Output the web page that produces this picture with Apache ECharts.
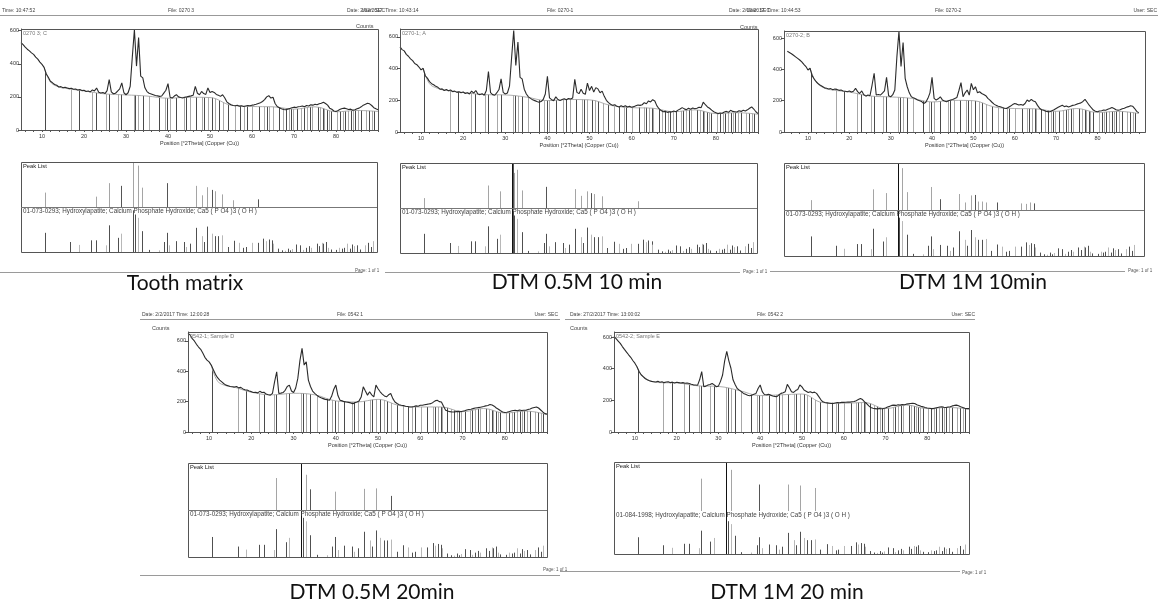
<!DOCTYPE html>
<html>
<head>
<meta charset="utf-8">
<script src="https://cdn.jsdelivr.net/npm/echarts@6/dist/echarts.min.js"></script>
<style>
  html, body { margin: 0; padding: 0; background: #fff; }
  #chart { width: 1158px; height: 601px; }
</style>
</head>
<body>
<div id="chart"></div>
<script>
// ---- data (read off the scanned XRD printouts) ----
// scan positions, °2Theta
const twoTheta = [
  5, 5.5, 6, 6.5, 7, 7.5, 8, 8.5, 9, 9.5,
  10, 10.5, 11, 11.5, 12, 12.5, 13, 13.5, 14, 14.5,
  15, 15.5, 16, 16.5, 17, 17.5, 18, 18.5, 19, 19.5,
  20, 20.5, 21, 21.5, 22, 22.5, 23, 23.5, 24, 24.5,
  25, 25.5, 26, 26.5, 27, 27.5, 28, 28.5, 29, 29.5,
  30, 30.5, 31, 31.5, 32, 32.5, 33, 33.5, 34, 34.5,
  35, 35.5, 36, 36.5, 37, 37.5, 38, 38.5, 39, 39.5,
  40, 40.5, 41, 41.5, 42, 42.5, 43, 43.5, 44, 44.5,
  45, 45.5, 46, 46.5, 47, 47.5, 48, 48.5, 49, 49.5,
  50, 50.5, 51, 51.5, 52, 52.5, 53, 53.5, 54, 54.5,
  55, 55.5, 56, 56.5, 57, 57.5, 58, 58.5, 59, 59.5,
  60, 60.5, 61, 61.5, 62, 62.5, 63, 63.5, 64, 64.5,
  65, 65.5, 66, 66.5, 67, 67.5, 68, 68.5, 69, 69.5,
  70, 70.5, 71, 71.5, 72, 72.5, 73, 73.5, 74, 74.5,
  75, 75.5, 76, 76.5, 77, 77.5, 78, 78.5, 79, 79.5,
  80, 80.5, 81, 81.5, 82, 82.5, 83, 83.5, 84, 84.5,
  85, 85.5, 86, 86.5, 87, 87.5, 88, 88.5, 89, 89.5,
  90
];

// counts, sample 0270 3; C (tooth matrix)
const countsC = [
  528, 515, 500, 488, 478, 466, 457, 440, 428, 410,
  396, 378, 340, 318, 294, 285, 275, 270, 260, 262,
  255, 258, 254, 250, 252, 246, 248, 242, 244, 238,
  240, 233, 236, 230, 242, 236, 254, 228, 223, 226,
  220, 238, 305, 230, 219, 222, 235, 248, 284, 225,
  213, 225, 264, 440, 605, 386, 558, 325, 315, 255,
  232, 222, 218, 213, 208, 206, 203, 205, 223, 240,
  280, 198, 193, 205, 213, 200, 196, 193, 198, 200,
  203, 206, 210, 264, 222, 213, 233, 220, 215, 254,
  226, 233, 227, 215, 210, 203, 213, 195, 170, 160,
  152, 148, 146, 150, 144, 146, 142, 145, 148, 146,
  150, 152, 155, 160, 165, 172, 183, 200, 207, 193,
  198, 160, 142, 135, 128, 124, 122, 126, 130, 134,
  138, 136, 140, 142, 145, 140, 148, 145, 152, 150,
  155, 152, 158, 162, 168, 160, 150, 132, 125, 115,
  112, 118, 125, 130, 132, 128, 124, 126, 120, 122,
  128, 132, 140, 150, 155, 162, 158, 148, 135, 128,
  122
];
// counts, sample 0270-1; A
const countsA = [
  537, 520, 512, 490, 478, 462, 450, 432, 425, 410,
  392, 402, 355, 340, 318, 305, 298, 288, 282, 270,
  272, 262, 268, 260, 265, 255, 258, 250, 254, 248,
  252, 243, 248, 240, 258, 245, 262, 240, 236, 242,
  232, 262, 382, 248, 236, 232, 248, 268, 335, 250,
  240, 246, 290, 470, 640, 420, 568, 345, 335, 270,
  240, 222, 212, 203, 198, 192, 188, 192, 205, 240,
  352, 215, 204, 198, 222, 205, 198, 205, 210, 204,
  212, 208, 215, 333, 250, 242, 270, 245, 238, 309,
  262, 288, 252, 280, 272, 248, 258, 225, 200, 185,
  175, 168, 172, 162, 158, 165, 160, 166, 158, 162,
  156, 160, 165, 170, 168, 172, 185, 178, 196, 190,
  204, 196, 165, 147, 135, 128, 130, 124, 128, 126,
  132, 128, 138, 145, 154, 146, 141, 150, 144, 152,
  147, 150, 156, 154, 188, 172, 158, 150, 138, 128,
  122, 116, 120, 118, 126, 130, 124, 137, 130, 128,
  126, 134, 130, 137, 132, 140, 150, 158, 145, 128,
  116
];
// counts, sample 0270-2; B
const countsB = [
  515, 508, 500, 490, 480, 470, 460, 448, 432, 418,
  396, 407, 360, 338, 321, 308, 298, 290, 282, 279,
  275, 277, 270, 274, 272, 266, 268, 262, 260, 257,
  262, 255, 260, 279, 258, 246, 262, 238, 229, 236,
  232, 300, 375, 236, 240, 236, 248, 262, 349, 232,
  225, 238, 268, 480, 643, 418, 572, 343, 289, 250,
  225, 218, 212, 204, 200, 194, 182, 190, 215, 250,
  349, 215, 204, 212, 225, 205, 198, 193, 200, 204,
  208, 214, 220, 265, 315, 225, 250, 268, 236, 311,
  270, 289, 250, 257, 246, 240, 232, 215, 204, 190,
  178, 170, 165, 161, 156, 152, 150, 158, 166, 175,
  182, 178, 172, 176, 171, 182, 204, 195, 208, 198,
  193, 170, 152, 142, 139, 132, 130, 129, 136, 142,
  150, 158, 165, 171, 162, 166, 160, 165, 170, 172,
  178, 182, 186, 195, 208, 190, 171, 155, 140, 132,
  129, 134, 136, 140, 139, 145, 150, 156, 150, 142,
  139, 142, 148, 152, 158, 162, 168, 165, 150, 132,
  122
];
// counts, sample 0542-1
const countsD = [
  650, 640, 615, 600, 578, 560, 545, 520, 492, 474,
  462, 441, 410, 380, 358, 342, 330, 318, 309, 305,
  300, 298, 296, 300, 291, 294, 284, 278, 276, 270,
  266, 260, 262, 258, 268, 260, 262, 250, 246, 243,
  255, 330, 397, 254, 256, 260, 275, 300, 309, 270,
  260, 290, 353, 470, 551, 441, 463, 342, 300, 270,
  255, 243, 232, 225, 220, 215, 212, 209, 235, 280,
  309, 240, 209, 205, 200, 198, 195, 192, 187, 192,
  198, 205, 230, 298, 270, 243, 265, 245, 232, 309,
  285, 265, 250, 238, 232, 245, 254, 220, 198, 188,
  180, 176, 174, 170, 168, 165, 165, 168, 172, 170,
  176, 176, 180, 182, 185, 187, 195, 205, 209, 200,
  198, 170, 143, 138, 134, 132, 132, 134, 136, 134,
  137, 140, 145, 148, 150, 154, 158, 160, 162, 165,
  168, 172, 175, 181, 178, 170, 158, 150, 140, 132,
  128, 130, 134, 138, 142, 143, 140, 145, 142, 143,
  143, 148, 152, 158, 162, 165, 158, 145, 132, 121,
  118
];
// counts, sample 0542-2
const countsE = [
  604, 590, 575, 560, 540, 522, 505, 488, 472, 452,
  435, 412, 382, 362, 350, 338, 330, 324, 320, 318,
  316, 320, 314, 318, 312, 316, 318, 312, 315, 310,
  314, 312, 310, 312, 308, 310, 307, 302, 298, 297,
  295, 330, 382, 286, 290, 297, 300, 307, 298, 286,
  290, 320, 360, 450, 509, 450, 403, 330, 300, 275,
  265, 255, 244, 238, 232, 229, 232, 238, 244, 275,
  297, 255, 237, 235, 238, 233, 228, 225, 223, 235,
  244, 248, 255, 301, 280, 255, 250, 262, 268, 297,
  285, 265, 258, 250, 255, 248, 252, 244, 225, 205,
  191, 186, 184, 182, 180, 180, 183, 186, 185, 187,
  187, 188, 190, 189, 191, 193, 198, 205, 212, 205,
  190, 180, 165, 155, 150, 148, 146, 148, 147, 148,
  152, 158, 162, 168, 170, 168, 172, 170, 174, 172,
  176, 178, 180, 182, 180, 172, 168, 162, 159, 155,
  152, 150, 148, 148, 152, 155, 158, 159, 156, 155,
  158, 160, 165, 168, 170, 166, 160, 155, 150, 148,
  148
];

// fitted background
const bgTheta = [10.5, 12, 14, 16, 20, 25, 30, 35, 40, 45, 50, 55, 60, 65, 70, 75, 80, 85, 90];
const bgC = [378, 290, 260, 250, 236, 218, 212, 205, 192, 198, 196, 150, 142, 140, 126, 140, 110, 118, 112];
const bgA = [402, 305, 275, 262, 250, 236, 234, 220, 198, 205, 203, 168, 154, 150, 128, 140, 116, 122, 112];
const bgB = [407, 318, 280, 268, 255, 230, 224, 215, 192, 202, 200, 160, 150, 148, 132, 150, 125, 132, 118];
const bgD = [441, 335, 305, 295, 262, 245, 255, 245, 205, 198, 215, 175, 165, 165, 134, 155, 125, 138, 115];
const bgE = [412, 345, 320, 312, 310, 292, 288, 262, 230, 235, 240, 186, 182, 186, 148, 170, 148, 155, 145];

// reference pattern (hydroxylapatite card), position and relative intensity
const refTheta = [
  10.8, 16.8, 18.8, 21.8, 22.9, 25.3, 25.9, 28.1, 28.9, 31.8,
  32.2, 32.9, 34.0, 35.5, 37.9, 39.2, 39.8, 40.4, 42.0, 43.8,
  44.4, 45.3, 46.7, 48.1, 48.6, 49.5, 50.5, 51.3, 52.1, 53.1,
  54.4, 55.9, 57.1, 58.1, 58.7, 60.1, 61.7, 62.9, 63.5, 64.1,
  64.9, 65.1, 66.4, 67.3, 68.0, 68.7, 69.2, 69.7, 70.6, 71.7,
  72.3, 73.0, 73.7, 74.2, 75.6, 76.2, 76.9, 77.2, 77.9, 78.3,
  78.9, 80.3, 81.0, 81.6, 82.1, 82.8, 83.5, 84.0, 84.5, 85.2,
  86.0, 87.1, 87.8, 88.5, 89.0
];
const refInt = [
  46, 24, 17, 28, 28, 16, 64, 34, 44, 100,
  90, 82, 50, 5, 4, 24, 46, 16, 26, 24,
  12, 20, 58, 38, 24, 61, 44, 38, 38, 40,
  12, 27, 22, 10, 12, 22, 22, 32, 26, 30,
  28, 20, 8, 4, 3, 8, 4, 7, 18, 16,
  5, 10, 14, 10, 20, 14, 22, 20, 24, 10,
  6, 5, 10, 8, 10, 20, 8, 18, 14, 16,
  6, 16, 22, 12, 26
];

// peak lists found in each scan
const peakThetaC = [10.8, 22.9, 25.9, 28.9, 31.8, 32.9, 34.0, 39.8, 46.7, 48.1, 49.5, 50.5, 51.3, 53.1, 55.5, 61.6];
const peakIntC = [32, 23, 53, 47, 100, 92, 43, 53, 47, 26, 44, 38, 35, 28, 15, 17];
const peakThetaA = [10.8, 25.9, 28.9, 31.8, 32.2, 32.9, 34.0, 39.8, 46.7, 48.1, 49.5, 50.5, 51.3, 53.1, 61.6];
const peakIntA = [22, 50, 37, 100, 78, 85, 39, 47, 42, 27, 37, 33, 31, 26, 15];
const peakThetaB = [10.8, 25.9, 28.9, 31.8, 32.9, 34.0, 39.8, 42.0, 46.7, 48.1, 49.5, 50.5, 51.3, 52.1, 53.1, 55.9, 61.6, 62.9, 63.9, 64.9];
const peakIntB = [21, 44, 36, 100, 89, 38, 49, 23, 34, 16, 31, 32, 18, 18, 16, 16, 14, 13, 16, 14];
const peakThetaD = [25.9, 31.8, 32.9, 34.0, 39.8, 46.7, 49.5, 53.1];
const peakIntD = [68, 100, 75, 44, 39, 45, 46, 30];
const peakThetaE = [25.9, 31.8, 32.9, 39.8, 46.7, 49.5, 53.1];
const peakIntE = [66, 100, 84, 54, 54, 52, 47];

const cursorTheta = 31.75;
const xTickLabels = [10, 20, 30, 40, 50, 60, 70, 80];
const xTickMarks = [6, 8, 10, 12, 14, 16, 18, 20, 22, 24, 26, 28, 30, 32, 34, 36, 38, 40, 42, 44, 46, 48,
  50, 52, 54, 56, 58, 60, 62, 64, 66, 68, 70, 72, 74, 76, 78, 80, 82, 84, 86, 88, 90];
const yTickLabels = [0, 200, 400, 600];

// ---- layout ----
const SMALL = '"Liberation Sans", Arial, sans-serif';
const cardHA = '01-073-0293; Hydroxylapatite; Calcium Phosphate Hydroxide; Ca5 ( P O4 )3 ( O H )';
const cardHA2 = '01-084-1998; Hydroxylapatite; Calcium Phosphate Hydroxide; Ca5 ( P O4 )3 ( O H )';

const panels = [
  { counts: countsC, bg: bgC, pT: peakThetaC, pI: peakIntC, card: cardHA, sample: '0270 3; C',
    xMin: 5, xMax: 90, yMax: 610, plot: [21, 29, 378, 130], box: [21, 162, 377, 252], div: 207, refMax: 108, cursor: false },
  { counts: countsA, bg: bgA, pT: peakThetaA, pI: peakIntA, card: cardHA, sample: '0270-1; A',
    xMin: 5, xMax: 90, yMax: 650, plot: [400, 29, 758, 132], box: [400, 163, 757, 253], div: 208, refMax: 108, cursor: true },
  { counts: countsB, bg: bgB, pT: peakThetaB, pI: peakIntB, card: cardHA, sample: '0270-2; B',
    xMin: 4.2, xMax: 91.5, yMax: 645, plot: [784, 31, 1145, 132], box: [784, 163, 1144, 256], div: 210, refMax: 108, cursor: true },
  { counts: countsD, bg: bgD, pT: peakThetaD, pI: peakIntD, card: cardHA, sample: '0542-1; Sample D',
    xMin: 5, xMax: 90, yMax: 659, plot: [188, 332, 547, 432], box: [188, 463, 547, 557], div: 510, refMax: 108, cursor: true },
  { counts: countsE, bg: bgE, pT: peakThetaE, pI: peakIntE, card: cardHA2, sample: '0542-2; Sample E',
    xMin: 5, xMax: 90, yMax: 632, plot: [614, 332, 969, 432], box: [614, 462, 969, 554], div: 511, refMax: 118, cursor: true, noDivider: true }
];

const headers = [
  ['Time: 10:47:52', 2, 11, 'left'], ['File: 0270 3', 168, 11, 'left'], ['User: SEC', 385, 11, 'right'],
  ['Date: 2/02/2017  Time: 10:43:14', 347, 11, 'left'], ['File: 0270-1', 547, 11, 'left'], ['User: SEC', 770, 11, 'right'],
  ['Date: 2/02/2017  Time: 10:44:53', 729, 11, 'left'], ['File: 0270-2', 935, 11, 'left'], ['User: SEC', 1157, 11, 'right'],
  ['Date: 2/2/2017 Time: 12:00:28', 142, 315, 'left'], ['File: 0542 1', 337, 315, 'left'], ['User: SEC', 558, 315, 'right'],
  ['Date: 27/2/2017 Time: 13:00:02', 570, 315, 'left'], ['File: 0542 2', 757, 315, 'left'], ['User: SEC', 975, 315, 'right']
];
const headerLines = [[0, 15, 385], [347, 15, 770], [729, 15, 1158], [140, 319, 560], [565, 319, 975]];
const countsLabels = [[356, 26], [740, 27], [152, 328], [570, 328]];
const pageLines = [[0, 272, 362], [385, 272, 740], [770, 271, 1125], [140, 575, 560], [560, 571, 960]];
const pageLabels = [[355, 271], [743, 272], [1128, 271], [543, 570], [962, 573]];
const captions = [
  ['Tooth matrix', 185, 283], ['DTM 0.5M 10 min', 577, 282], ['DTM 1M 10min', 973, 282],
  ['DTM 0.5M 20min', 372, 592], ['DTM 1M 20 min', 787, 592]
];

function zip(xs, ys) { return xs.map((x, i) => [x, ys[i]]); }

function sticks(gi, xs, hs, colorOf, z) {
  return {
    type: 'custom', xAxisIndex: gi, yAxisIndex: gi, silent: true, clip: true, z: z,
    data: xs.map((x, i) => [x, hs[i], i]),
    renderItem: function (params, api) {
      const a = api.coord([api.value(0), 0]);
      const b = api.coord([api.value(0), api.value(1)]);
      const x = Math.round(a[0]) + 0.5;
      return {
        type: 'line',
        shape: { x1: x, y1: a[1], x2: x, y2: b[1] },
        style: { stroke: colorOf(api.value(2)), lineWidth: 1 }
      };
    }
  };
}

const grid = [], xAxis = [], yAxis = [], series = [], graphic = [];

function txt(s, x, y, size, opts) {
  opts = opts || {};
  graphic.push({
    type: 'text', x: x, y: y, z: 200, silent: true,
    style: {
      text: s, fill: opts.color || '#333', align: opts.align || 'left',
      verticalAlign: opts.va || 'middle',
      font: (opts.weight || 'normal') + ' ' + size + 'px ' + (opts.family || SMALL)
    }
  });
}
function hline(x1, y, x2, color, w) {
  graphic.push({ type: 'line', z: 150, silent: true, shape: { x1: x1, y1: y + 0.5, x2: x2, y2: y + 0.5 },
    style: { stroke: color, lineWidth: w || 1 } });
}
function box(l, t, r, b, color) {
  graphic.push({ type: 'rect', z: 150, silent: true,
    shape: { x: l + 0.5, y: t + 0.5, width: r - l, height: b - t },
    style: { fill: 'transparent', stroke: color, lineWidth: 1 } });
}

panels.forEach(function (p, k) {
  const gPlot = 3 * k, gUp = 3 * k + 1, gLow = 3 * k + 2;
  const [pl, pt, pr, pb] = p.plot;
  const [bl, bt, br, bb] = p.box;

  grid.push({ left: pl, top: pt, width: pr - pl, height: pb - pt, show: false, containLabel: false, outerBoundsMode: 'none' });
  grid.push({ left: bl, top: bt, width: br - bl, height: p.div - bt, show: false, containLabel: false, outerBoundsMode: 'none' });
  grid.push({ left: bl, top: p.div, width: br - bl, height: bb - p.div, show: false, containLabel: false, outerBoundsMode: 'none' });

  xAxis.push({
    gridIndex: gPlot, type: 'value', min: p.xMin, max: p.xMax,
    name: 'Position [°2Theta] (Copper (Cu))', nameLocation: 'middle', nameGap: 10,
    nameTextStyle: { fontSize: 5.5, color: '#333', fontFamily: SMALL },
    axisLine: { show: true, onZero: false, lineStyle: { color: '#444', width: 1 } },
    axisTick: { show: true, length: 2, customValues: xTickMarks, lineStyle: { color: '#555' } },
    axisLabel: { fontSize: 5.5, margin: 3, color: '#333', fontFamily: SMALL, customValues: xTickLabels },
    splitLine: { show: false }
  });
  yAxis.push({
    gridIndex: gPlot, type: 'value', min: 0, max: p.yMax,
    axisLine: { show: true, lineStyle: { color: '#444', width: 1 } },
    axisTick: { show: true, length: 3, customValues: yTickLabels, lineStyle: { color: '#555' } },
    axisLabel: { fontSize: 5.5, margin: 2, color: '#333', fontFamily: SMALL, customValues: yTickLabels },
    splitLine: { show: false }
  });
  [gUp, gLow].forEach(function (g, j) {
    xAxis.push({ gridIndex: g, type: 'value', min: p.xMin, max: p.xMax, show: false, splitLine: { show: false } });
    yAxis.push({ gridIndex: g, type: 'value', min: 0, max: j === 0 ? 100 : p.refMax, show: false, splitLine: { show: false } });
  });

  // diffractogram: reference markers, masked above the background line
  series.push(sticks(gPlot, refTheta, refTheta.map(function () { return p.yMax; }),
    function (i) { return i % 2 ? '#a8a8a8' : '#4a4a4a'; }, 1));
  series.push({
    type: 'line', xAxisIndex: gPlot, yAxisIndex: gPlot, data: zip(bgTheta, p.bg),
    smooth: 0.4, symbol: 'none', silent: true, z: 3,
    lineStyle: { color: '#9a9a9a', width: 0.8 },
    areaStyle: { color: '#ffffff', opacity: 1, origin: 'end' }
  });
  series.push({
    type: 'line', xAxisIndex: gPlot, yAxisIndex: gPlot, data: zip(twoTheta, p.counts),
    symbol: 'none', silent: true, z: 4,
    lineStyle: { color: '#2b2b2b', width: 1.1 }
  });

  // peak list: sample peaks on top, reference card below
  series.push(sticks(gUp, p.pT, p.pI, function (i) { return i % 4 === 3 ? '#555' : '#a5a5a5'; }, 2));
  series.push(sticks(gLow, refTheta, refInt, function (i) { return i % 3 === 2 ? '#b8b8b8' : '#505050'; }, 2));
  if (p.cursor) {
    series.push(sticks(gUp, [cursorTheta], [100], function () { return '#111'; }, 5));
    series.push(sticks(gLow, [cursorTheta], [p.refMax], function () { return '#111'; }, 5));
  }

  box(pl, pt, pr, pb, '#555');
  box(bl, bt, br, bb, '#555');
  if (!p.noDivider) hline(bl, p.div, br, '#777');

  txt(p.sample, pl + 2, pt + 4, 5.5, { color: '#777' });
  txt('Peak List', bl + 2, bt + 4, 5.8, { color: '#222' });
  txt(p.card, bl + 2, p.div + 4, 6.3, { color: '#444' });
});

headers.forEach(function (h) { txt(h[0], h[1], h[2], 5, { align: h[3], color: '#444' }); });
headerLines.forEach(function (l) { hline(l[0], l[1], l[2], '#999'); });
countsLabels.forEach(function (c) { txt('Counts', c[0], c[1], 5.5, { color: '#444' }); });
pageLines.forEach(function (l) { hline(l[0], l[1], l[2], '#9a9a9a'); });
pageLabels.forEach(function (c) { txt('Page: 1 of 1', c[0], c[1], 4.5, { color: '#555' }); });
captions.forEach(function (c) {
  txt(c[0], c[1], c[2], 21, { align: 'center', color: '#111', family: 'Lato, "Open Sans", sans-serif' });
});

const chart = echarts.init(document.getElementById('chart'), null, { renderer: 'canvas' });
chart.setOption({
  animation: false,
  backgroundColor: '#ffffff',
  grid: grid,
  xAxis: xAxis,
  yAxis: yAxis,
  series: series,
  graphic: graphic
});
</script>
</body>
</html>
